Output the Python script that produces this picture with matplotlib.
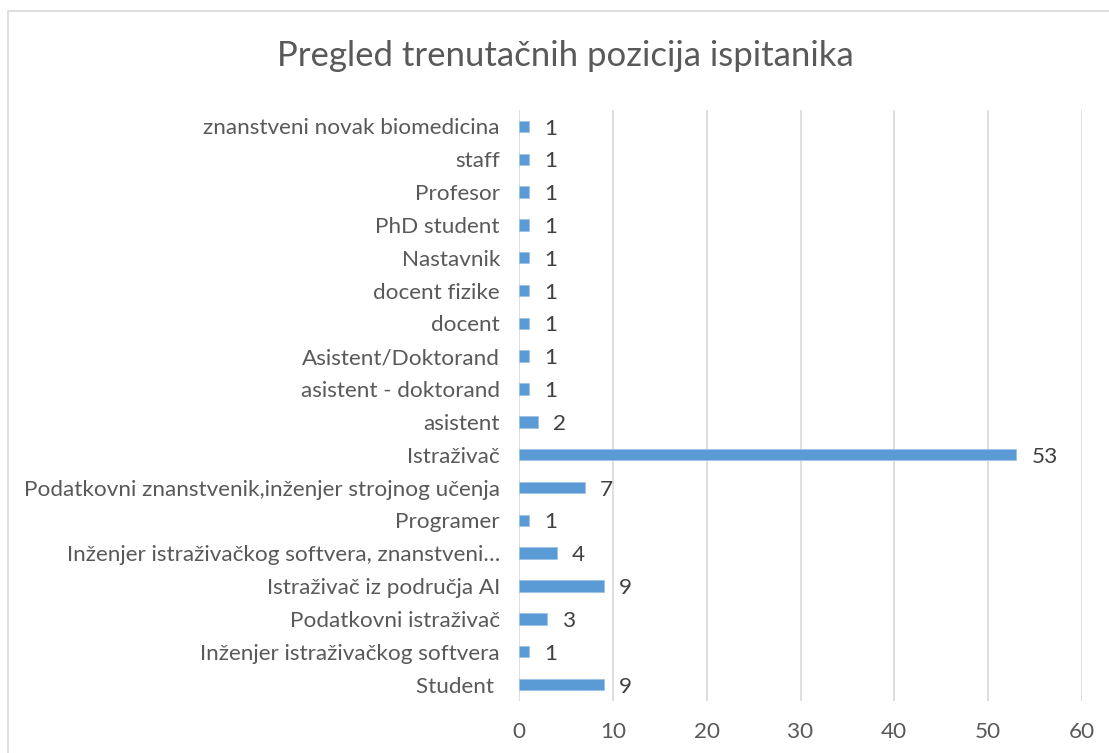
import matplotlib.pyplot as plt
from matplotlib.patches import Rectangle

# Podaci (odozdo prema gore, kao na grafu)
pozicije = [
    'Student ',
    'Inženjer istraživačkog softvera',
    'Podatkovni istraživač',
    'Istraživač iz područja AI',
    'Inženjer istraživačkog softvera, znanstveni…',
    'Programer',
    'Podatkovni znanstvenik,inženjer strojnog učenja',
    'Istraživač',
    'asistent',
    'asistent - doktorand',
    'Asistent/Doktorand',
    'docent',
    'docent fizike',
    'Nastavnik',
    'PhD student',
    'Profesor',
    'staff',
    'znanstveni novak biomedicina',
]
broj = [9, 1, 3, 9, 4, 1, 7, 53, 2, 1, 1, 1, 1, 1, 1, 1, 1, 1]
x_ticks = [0, 10, 20, 30, 40, 50, 60]

plt.rcParams['font.family'] = ['Lato', 'DejaVu Sans']
siva = '#595959'

fig = plt.figure(figsize=(11.09, 7.53), dpi=100)
ax = fig.add_axes([0.4683, 0.0691, 0.5071, 0.7848])

# okvir grafikona
fig.patches.append(Rectangle((8 / 1109, -0.1), 1.2, 1 - 11 / 753 + 0.1,
                             transform=fig.transFigure, fill=False,
                             edgecolor='#D9D9D9', linewidth=1.2))

y = range(len(pozicije))
ax.barh(y, broj, height=0.35, color='#5B9BD5', edgecolor='#9DC3E6', linewidth=0.6, zorder=3)

for i, v in enumerate(broj):
    ax.annotate(str(v), (v, i), xytext=(11, -1.5), textcoords='offset points',
                ha='left', va='center', fontsize=16.2, color='#404040')

ax.set_xlim(0, 60)
ax.set_ylim(-0.5, len(pozicije) - 0.5)
ax.set_xticks(x_ticks)
ax.set_yticks(list(y))
ax.set_yticklabels(pozicije)
ax.tick_params(axis='both', length=0, labelsize=16.2, labelcolor=siva)
ax.tick_params(axis='y', pad=14)
ax.tick_params(axis='x', pad=15)
ax.grid(axis='x', color='#D9D9D9', linewidth=1.2, zorder=0)
for s in ax.spines.values():
    s.set_visible(False)

fig.text(0.51, 0.925, 'Pregled trenutačnih pozicija ispitanika', ha='center', va='center',
         fontsize=25, color=siva)

fig.savefig('out.png', dpi=100)
